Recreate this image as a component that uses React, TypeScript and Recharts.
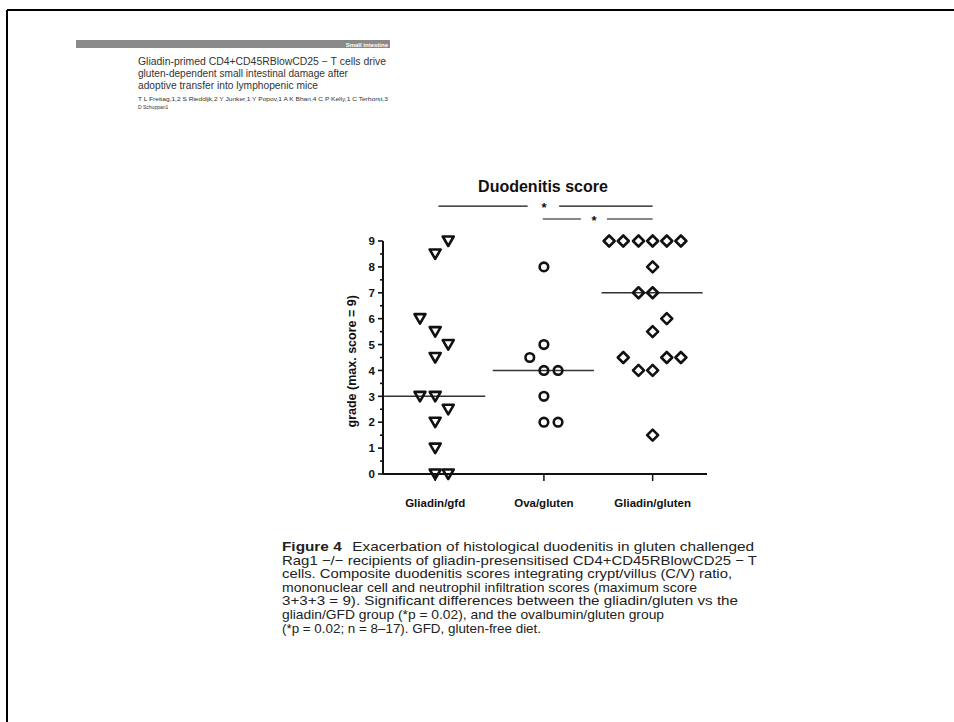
import React from "react";
import {
  ScatterChart,
  Scatter,
  XAxis,
  YAxis,
  ReferenceLine,
  ReferenceDot,
} from "recharts";

// groups on the x axis
const categories = ["Gliadin/gfd", "Ova/gluten", "Gliadin/gluten"];

// duodenitis grade per mouse, with the horizontal spread used in the dot plot
const gfdScores = [9, 8.5, 6, 5.5, 5, 4.5, 3, 3, 2.5, 2, 1, 0, 0];
const gfdJitter = [0.12, 0, -0.14, 0, 0.12, 0, -0.14, 0, 0.12, 0, 0, 0, 0.12];

const ovaScores = [8, 5, 4.5, 4, 4, 3, 2, 2];
const ovaJitter = [0, 0, -0.13, 0, 0.13, 0, 0, 0.13];

const glutenScores = [9, 9, 9, 9, 9, 9, 8, 7, 7, 6, 5.5, 4.5, 4, 4, 4.5, 4.5, 1.5];
const glutenJitter = [
  -0.4, -0.27, -0.13, 0, 0.13, 0.26, 0, -0.13, 0, 0.13, 0, -0.27, -0.13, 0, 0.13, 0.26, 0,
];

const medians = [3, 4, 7];
const yTicks = [0, 0.5, 1, 1.5, 2, 2.5, 3, 3.5, 4, 4.5, 5, 5.5, 6, 6.5, 7, 7.5, 8, 8.5, 9];

const captionLines = [
  "Rag1 \u2212/\u2212  recipients of gliadin-presensitised CD4+CD45RBlowCD25 \u2212  T",
  "cells. Composite duodenitis scores integrating crypt/villus (C/V) ratio,",
  "mononuclear cell and neutrophil infiltration scores (maximum score",
  "3+3+3 = 9). Significant differences between the gliadin/gluten vs the",
  "gliadin/GFD group (*p = 0.02), and the ovalbumin/gluten group",
  "(*p = 0.02; n = 8\u201317). GFD, gluten-free diet.",
];
const captionWidths = [475, 450, 415, 456, 382, 259];

const toPoints = (scores: number[], jitter: number[], group: number) =>
  scores.map((v, i) => ({ x: group + 1 + jitter[i], y: v }));

const FONT = "'Liberation Sans', Arial, sans-serif";
const SW = 2.6;

const Triangle = (p: any) => (
  <path
    d={`M${p.cx - 5.5},${p.cy - 4.5} L${p.cx + 5.5},${p.cy - 4.5} L${p.cx},${p.cy + 5} Z`}
    fill="none"
    stroke="#111"
    strokeWidth={SW}
    strokeLinejoin="round"
  />
);
const Circle = (p: any) => (
  <circle cx={p.cx} cy={p.cy} r={4.3} fill="none" stroke="#111" strokeWidth={SW} />
);
const Diamond = (p: any) => (
  <path
    d={`M${p.cx},${p.cy - 5.5} L${p.cx + 5.5},${p.cy} L${p.cx},${p.cy + 5.5} L${p.cx - 5.5},${p.cy} Z`}
    fill="none"
    stroke="#111"
    strokeWidth={SW}
    strokeLinejoin="round"
  />
);

const YTick = (props: any) => {
  const { x, y, payload } = props;
  const axisX = x + 14;
  const major = Number.isInteger(payload.value);
  return (
    <g>
      <line x1={axisX - (major ? 5 : 3)} x2={axisX} y1={y} y2={y} stroke="#111" strokeWidth={1.6} />
      {major && (
        <text x={axisX - 8} y={y + 4.2} textAnchor="end" fontSize={11.5} fontWeight="bold" fill="#111" fontFamily={FONT}>
          {payload.value}
        </text>
      )}
    </g>
  );
};

const XTick = (props: any) => {
  const { x, y, payload } = props;
  return (
    <text x={x} y={y + 24} textAnchor="middle" fontSize={11.5} fontWeight="bold" fill="#111" fontFamily={FONT}>
      {categories[payload.value - 1]}
    </text>
  );
};

const Star = (p: any) => (
  <text x={p.cx} y={p.cy + 6} textAnchor="middle" fontSize={13} fontWeight="bold" fill="#111" fontFamily={FONT}>
    *
  </text>
);

export default function App() {
  return (
    <div style={{ position: "absolute", left: 0, top: 0, width: 954, height: 722, background: "#fff" }}>
      <svg width={954} height={722} style={{ position: "absolute", left: 0, top: 0 }}>
        <line x1={7} y1={10} x2={954} y2={10} stroke="#000" strokeWidth={2} />
        <line x1={7} y1={10} x2={7} y2={722} stroke="#000" strokeWidth={2} />
        <rect x={76} y={40} width={314} height={8} fill="#8a8a8a" />
        <text x={388} y={46.5} textAnchor="end" fontSize={6} fontWeight="bold" fill="#fff" fontFamily={FONT}>
          Small intestine
        </text>
        <g fontFamily={FONT} fill="#333">
          <text x={138} y={65} fontSize={10} textLength={248} lengthAdjust="spacingAndGlyphs">
            Gliadin-primed CD4+CD45RBlowCD25 {"\u2212"} T cells drive
          </text>
          <text x={138} y={77} fontSize={10} textLength={210} lengthAdjust="spacingAndGlyphs">
            gluten-dependent small intestinal damage after
          </text>
          <text x={138} y={89} fontSize={10} textLength={180} lengthAdjust="spacingAndGlyphs">
            adoptive transfer into lymphopenic mice
          </text>
          <text x={138} y={101} fontSize={5} textLength={250} lengthAdjust="spacingAndGlyphs">
            T L Freitag,1,2 S Rieddijk,2 Y Junker,1 Y Popov,1 A K Bhan,4 C P Kelly,1 C Terhorst,3
          </text>
          <text x={138} y={109} fontSize={5}>
            D Schuppan1
          </text>
        </g>
        <text x={543} y={192} textAnchor="middle" fontSize={16} fontWeight="bold" fill="#111" fontFamily={FONT}>
          Duodenitis score
        </text>
        <g fontFamily={FONT} fill="#222" fontSize={13}>
          <text x={282} y={551} textLength={472} lengthAdjust="spacingAndGlyphs">
            <tspan fontWeight="bold">Figure 4</tspan>
            <tspan dx={9}>Exacerbation of histological duodenitis in gluten challenged</tspan>
          </text>
          {captionLines.map((line, i) => (
            <text
              key={i}
              x={282}
              y={551 + (i + 1) * 13.6}
              textLength={captionWidths[i]}
              lengthAdjust="spacingAndGlyphs"
            >
              {line}
            </text>
          ))}
        </g>
      </svg>
      <div style={{ position: "absolute", left: 300, top: 130 }}>
        <ScatterChart width={420} height={400} margin={{ top: 111, right: 13, bottom: 16, left: 38 }}>
          <XAxis
            type="number"
            dataKey="x"
            domain={[0.52, 3.5]}
            ticks={[1, 2, 3]}
            tick={<XTick />}
            tickSize={7}
            height={40}
            axisLine={{ stroke: "#111", strokeWidth: 2 }}
            tickLine={{ stroke: "#111", strokeWidth: 1.5 }}
            allowDataOverflow
          />
          <YAxis
            type="number"
            dataKey="y"
            domain={[0, 9]}
            ticks={yTicks}
            interval={0}
            tick={<YTick />}
            tickLine={false}
            tickSize={5}
            tickMargin={9}
            width={45}
            axisLine={{ stroke: "#111", strokeWidth: 2 }}
            label={{
              value: "grade (max. score = 9)",
              angle: -90,
              position: "insideLeft",
              offset: 0,
              dx: 14,
              dy: 70,
              style: { fontSize: 12.5, fontWeight: "bold", fill: "#111", fontFamily: FONT },
            }}
          />
          {medians.map((m, i) => (
            <ReferenceLine
              key={i}
              segment={[
                { x: i + 1 - 0.47, y: m },
                { x: i + 1 + 0.46, y: m },
              ]}
              stroke="#333"
              strokeWidth={1.5}
              ifOverflow="visible"
            />
          ))}
          <ReferenceLine segment={[{ x: 1.03, y: 10.35 }, { x: 1.85, y: 10.35 }]} stroke="#111" strokeWidth={1.2} ifOverflow="visible" />
          <ReferenceLine segment={[{ x: 2.14, y: 10.35 }, { x: 3, y: 10.35 }]} stroke="#111" strokeWidth={1.2} ifOverflow="visible" />
          <ReferenceDot x={2} y={10.35} r={0} shape={<Star />} ifOverflow="visible" />
          <ReferenceLine segment={[{ x: 1.99, y: 9.85 }, { x: 2.34, y: 9.85 }]} stroke="#111" strokeWidth={1.2} ifOverflow="visible" />
          <ReferenceLine segment={[{ x: 2.58, y: 9.85 }, { x: 3, y: 9.85 }]} stroke="#111" strokeWidth={1.2} ifOverflow="visible" />
          <ReferenceDot x={2.46} y={9.85} r={0} shape={<Star />} ifOverflow="visible" />
          <Scatter data={toPoints(gfdScores, gfdJitter, 0)} shape={<Triangle />} isAnimationActive={false} />
          <Scatter data={toPoints(ovaScores, ovaJitter, 1)} shape={<Circle />} isAnimationActive={false} />
          <Scatter data={toPoints(glutenScores, glutenJitter, 2)} shape={<Diamond />} isAnimationActive={false} />
        </ScatterChart>
      </div>
    </div>
  );
}
